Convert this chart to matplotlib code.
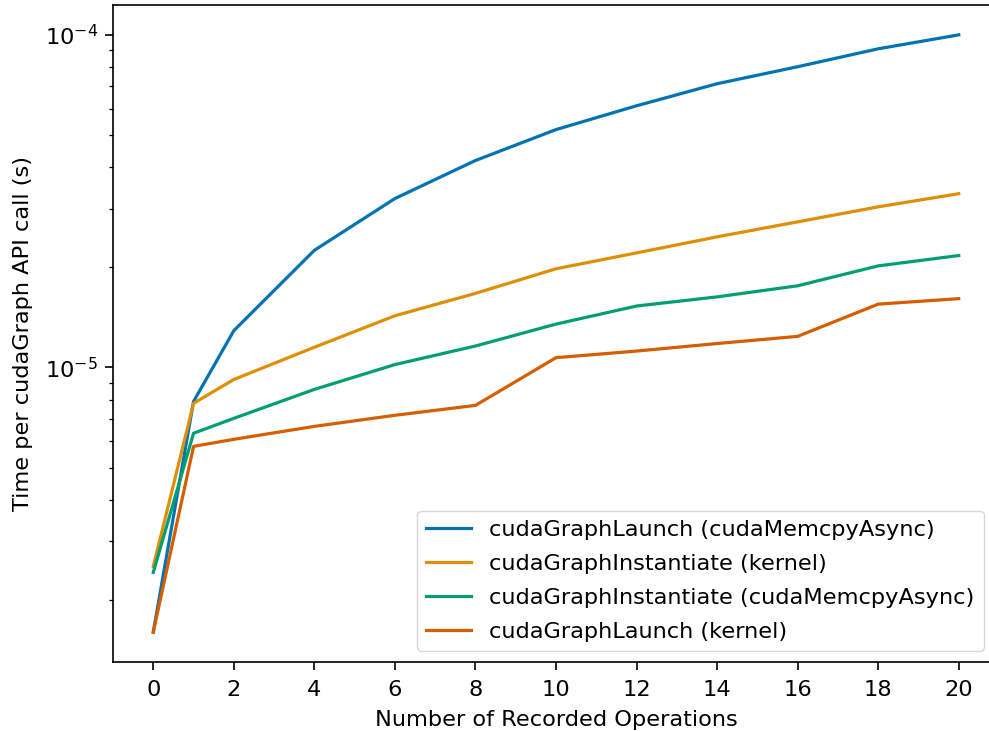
import matplotlib
matplotlib.use("Agg")
import matplotlib.pyplot as plt
import numpy as np

# recorded operations per graph
ops = [0, 1, 2, 4, 6, 8, 10, 12, 14, 16, 18, 20]

launch_memcpy = [1.6e-6, 7.9e-6, 1.29e-5, 2.25e-5, 3.22e-5, 4.19e-5, 5.19e-5,
                 6.12e-5, 7.13e-5, 8.02e-5, 9.08e-5, 1.0e-4]
inst_kernel = [2.52e-6, 7.8e-6, 9.2e-6, 1.15e-5, 1.43e-5, 1.67e-5, 1.98e-5,
               2.21e-5, 2.47e-5, 2.74e-5, 3.04e-5, 3.33e-5]
inst_memcpy = [2.42e-6, 6.34e-6, 7.03e-6, 8.59e-6, 1.02e-5, 1.16e-5, 1.35e-5,
               1.53e-5, 1.63e-5, 1.76e-5, 2.02e-5, 2.17e-5]
launch_kernel = [1.6e-6, 5.79e-6, 6.08e-6, 6.65e-6, 7.18e-6, 7.69e-6, 1.07e-5,
                 1.12e-5, 1.18e-5, 1.24e-5, 1.55e-5, 1.61e-5]

labels = ['cudaGraphLaunch (cudaMemcpyAsync)',
          'cudaGraphInstantiate (kernel)',
          'cudaGraphInstantiate (cudaMemcpyAsync)',
          'cudaGraphLaunch (kernel)']
colors = ['#0173b2', '#de8f05', '#029e73', '#d55e00']

plt.rcParams['font.size'] = 16.2
plt.rcParams['axes.linewidth'] = 1.2

fig = plt.figure(figsize=(9.89, 7.31), dpi=100)
ax = fig.add_axes([113 / 989, 69 / 731, (999 - 113) / 989, (662 - 5) / 731])

for ys, lab, c in zip([launch_memcpy, inst_kernel, inst_memcpy, launch_kernel], labels, colors):
    ax.plot(ops, ys, color=c, lw=2.3, label=lab)

ax.set_yscale('log')
ax.set_xticks(np.arange(0, 21, 2))
ax.tick_params(which='major', length=5.5, width=1.2)
ax.tick_params(which='minor', length=3.2, width=0.9)
ax.tick_params(axis='x', which='major', pad=7.5)
ax.tick_params(axis='y', which='major', pad=5.5)
ax.set_xlabel('Number of Recorded Operations', labelpad=7)
ax.set_ylabel('Time per cudaGraph API call (s)', labelpad=8)
ax.legend(loc='lower right', bbox_to_anchor=(995 / 989, 69 / 731),
          bbox_transform=fig.transFigure, labelspacing=0.62)

fig.savefig('out.png', dpi=100)
